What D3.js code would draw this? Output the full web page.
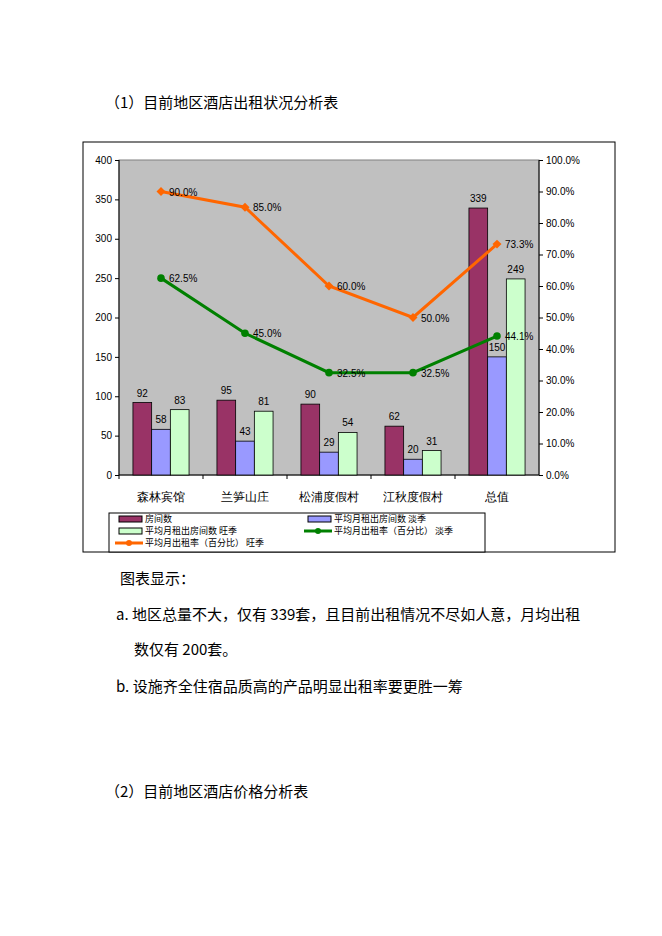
<!DOCTYPE html>
<html><head><meta charset="utf-8">
<script src="https://cdn.jsdelivr.net/npm/d3@7"></script>
<style>body{margin:0;background:#fff}svg{display:block}</style>
</head><body>
<script>
// chart data
const categories = ['森林宾馆', '兰笋山庄', '松浦度假村', '江秋度假村', '总值'];
const rooms = [92, 95, 90, 62, 339];
const lowRented = [58, 43, 29, 20, 150];
const highRented = [83, 81, 54, 31, 249];
const lowRate = [0.625, 0.45, 0.325, 0.325, 0.441];
const highRate = [0.90, 0.85, 0.60, 0.50, 0.733];
const leftTicks = [0, 50, 100, 150, 200, 250, 300, 350, 400];
const rightTicks = [0, 0.1, 0.2, 0.3, 0.4, 0.5, 0.6, 0.7, 0.8, 0.9, 1.0];

const font = 'SimSun, "Noto Sans CJK SC", sans-serif';
const svg = d3.select('body').append('svg').attr('width', 662).attr('height', 936)
  .style('font-family', font);

svg.append('text').attr('x', 105).attr('y', 108).attr('font-size', 15).text('（1）目前地区酒店出租状况分析表');

// outer frame
svg.append('rect').attr('x', 83).attr('y', 142).attr('width', 532).attr('height', 410)
  .attr('fill', '#fff').attr('stroke', '#000');

const L = 119, R = 539, T = 160, B = 475;
svg.append('rect').attr('x', L).attr('y', T).attr('width', R - L).attr('height', B - T)
  .attr('fill', '#c0c0c0').attr('stroke', '#808080');

const x = d3.scaleBand().domain(categories).range([L, R]);
const y = d3.scaleLinear().domain([0, 400]).range([B, T]);
const y2 = d3.scaleLinear().domain([0, 1]).range([B, T]);

const ax = svg.append('g').attr('transform', `translate(${L},0)`)
  .call(d3.axisLeft(y).tickValues(leftTicks).tickSize(4));
const ax2 = svg.append('g').attr('transform', `translate(${R},0)`)
  .call(d3.axisRight(y2).tickValues(rightTicks).tickSize(4).tickFormat(d3.format('.1%')));
const axb = svg.append('g').attr('transform', `translate(0,${B})`)
  .call(d3.axisBottom(x).tickSize(4).tickSizeOuter(0));
axb.selectAll('.tick line').attr('transform', `translate(${-x.bandwidth() / 2},0)`);
axb.selectAll('text').attr('dy', '1.6em').attr('font-size', 12);
[ax, ax2].forEach(g => g.selectAll('text').attr('font-size', 10).attr('font-family', 'Arial, "Liberation Sans"'));
[ax, ax2, axb].forEach(g => { g.select('.domain').remove(); g.selectAll('line').attr('stroke', '#000'); });
svg.append('line').attr('x1', L).attr('x2', L).attr('y1', T).attr('y2', B).attr('stroke', '#000');
svg.append('line').attr('x1', R).attr('x2', R).attr('y1', T).attr('y2', B).attr('stroke', '#000');
svg.append('line').attr('x1', L).attr('x2', R).attr('y1', B).attr('y2', B).attr('stroke', '#000');

const bw = 18.7;
const series = [
  { vals: rooms, color: '#993366' },
  { vals: lowRented, color: '#9999ff' },
  { vals: highRented, color: '#ccffcc' }
];
series.forEach((s, i) => {
  const g = svg.append('g');
  g.selectAll('rect').data(s.vals).join('rect')
    .attr('x', (d, j) => x(categories[j]) + x.bandwidth() / 2 - 1.5 * bw + i * bw)
    .attr('y', d => y(d)).attr('width', bw).attr('height', d => B - y(d))
    .attr('fill', s.color).attr('stroke', '#000').attr('stroke-width', 0.8);
  g.selectAll('text').data(s.vals).join('text')
    .attr('x', (d, j) => x(categories[j]) + x.bandwidth() / 2 - bw + i * bw)
    .attr('y', d => y(d) - 6).attr('text-anchor', 'middle')
    .attr('font-size', 10).attr('font-family', 'Arial, "Liberation Sans"').text(d => d);
});

function drawLine(vals, color, shape, size) {
  const cx = (d, j) => x(categories[j]) + x.bandwidth() / 2;
  svg.append('path').datum(vals)
    .attr('d', d3.line().x((d, j) => cx(d, j)).y(d => y2(d)))
    .attr('fill', 'none').attr('stroke', color).attr('stroke-width', 3);
  svg.append('g').selectAll('path').data(vals).join('path')
    .attr('transform', (d, j) => `translate(${cx(d, j)},${y2(d)}) rotate(${shape === d3.symbolSquare ? 45 : 0})`)
    .attr('d', d3.symbol().type(shape).size(size)).attr('fill', color);
  svg.append('g').selectAll('text').data(vals).join('text')
    .attr('x', (d, j) => cx(d, j) + 8).attr('y', d => y2(d) + 4)
    .attr('font-size', 10).attr('font-family', 'Arial, "Liberation Sans"')
    .text(d => d3.format('.1%')(d));
}
drawLine(highRate, '#ff6600', d3.symbolSquare, 40);
drawLine(lowRate, '#008000', d3.symbolCircle, 45);

// legend
const lg = svg.append('g').style('font-size', '9px');
lg.append('rect').attr('x', 109).attr('y', 513).attr('width', 376).attr('height', 39)
  .attr('fill', '#fff').attr('stroke', '#000');
const legendItems = [
  { x: 119, y: 519, label: '房间数', type: 'box', color: '#993366' },
  { x: 308, y: 519, label: '平均月租出房间数 淡季', type: 'box', color: '#9999ff' },
  { x: 119, y: 531, label: '平均月租出房间数 旺季', type: 'box', color: '#ccffcc' },
  { x: 308, y: 531, label: '平均月出租率（百分比）  淡季', type: 'line', color: '#008000' },
  { x: 119, y: 543, label: '平均月出租率（百分比）  旺季', type: 'line', color: '#ff6600' }
];
legendItems.forEach(it => {
  if (it.type === 'box') {
    lg.append('rect').attr('x', it.x).attr('y', it.y - 3).attr('width', 23).attr('height', 6)
      .attr('fill', it.color).attr('stroke', '#000');
  } else {
    lg.append('line').attr('x1', it.x - 4).attr('x2', it.x + 24).attr('y1', it.y).attr('y2', it.y)
      .attr('stroke', it.color).attr('stroke-width', 3);
    lg.append('circle').attr('cx', it.x + 10).attr('cy', it.y).attr('r', 3).attr('fill', it.color);
  }
  lg.append('text').attr('x', it.x + 26).attr('y', it.y + 3).text(it.label);
});

// body text
const body = [
  { x: 120, y: 584, t: '图表显示：' },
  { x: 116, y: 620, t: 'a. 地区总量不大，仅有 339套，且目前出租情况不尽如人意，月均出租' },
  { x: 134, y: 655, t: '数仅有 200套。' },
  { x: 116, y: 692, t: 'b. 设施齐全住宿品质高的产品明显出租率要更胜一筹' },
  { x: 105, y: 797, t: '（2）目前地区酒店价格分析表' }
];
svg.append('g').selectAll('text').data(body).join('text')
  .attr('x', d => d.x).attr('y', d => d.y).attr('font-size', 15).text(d => d.t);
</script>
</body></html>
